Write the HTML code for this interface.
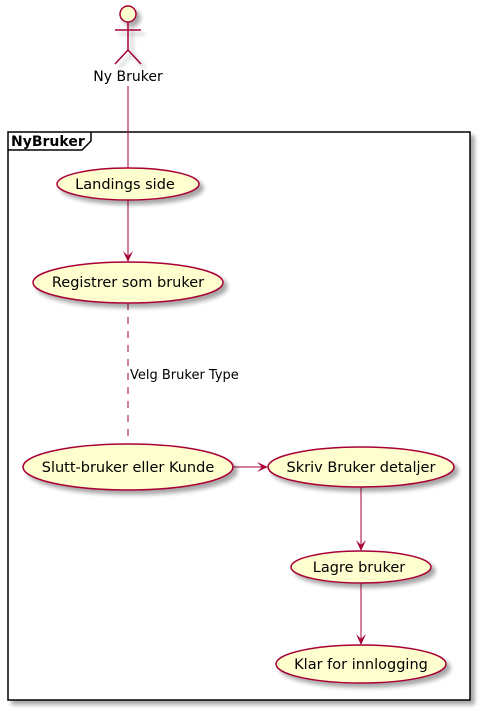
<!DOCTYPE html>
<html><head><meta charset="utf-8"><style>html,body{margin:0;padding:0;background:#fff}svg{display:block}</style></head><body>
<svg width="481" height="711" viewBox="0 0 481 711" xmlns="http://www.w3.org/2000/svg" font-family="DejaVu Sans, sans-serif">
<defs>
<filter id="sh" x="-20%" y="-20%" width="150%" height="160%"><feGaussianBlur in="SourceAlpha" stdDeviation="2"/><feOffset dx="4" dy="4"/><feComponentTransfer><feFuncA type="linear" slope="0.35"/></feComponentTransfer><feMerge><feMergeNode/><feMergeNode in="SourceGraphic"/></feMerge></filter>
</defs>
<rect x="8" y="132" width="462" height="568" fill="#fff" stroke="#000" stroke-width="1.5" filter="url(#sh)"/>
<path d="M8 150 H82 L91 141 V132" fill="none" stroke="#000" stroke-width="1.5"/>
<text x="11" y="146" font-size="14" font-weight="bold">NyBruker</text>
<g stroke="#A80036" stroke-width="1.5" fill="none" filter="url(#sh)">
<circle cx="128" cy="14" r="8" fill="#FEFECE"/>
<path d="M128 22 V50 M115 30 H141 M128 50 L115 64 M128 50 L141 64"/>
</g>
<text x="128" y="81" font-size="14" text-anchor="middle">Ny Bruker</text>
<g stroke="#A80036" stroke-width="1" fill="none">
<path d="M128 86 V168"/>
<path d="M128 200 V261"/>
<path d="M128 303 V437" stroke-dasharray="7,7"/>
<path d="M233 467 H267"/>
<path d="M361 487 V550"/>
<path d="M361 583 V644"/>
</g>
<g fill="#A80036">
<path d="M128 262 L123 251 L128 256 L133 251 Z"/>
<path d="M268 467 L257 462 L262 467 L257 472 Z"/>
<path d="M361 551 L356 540 L361 545 L366 540 Z"/>
<path d="M361 645 L356 634 L361 639 L366 634 Z"/>
</g>
<text x="130" y="379" font-size="13">Velg Bruker Type</text>
<g fill="#FEFECE" stroke="#A80036" stroke-width="1.5" filter="url(#sh)">
<ellipse cx="128" cy="184" rx="71" ry="16"/>
<ellipse cx="128" cy="282.5" rx="95" ry="20.5"/>
<ellipse cx="128" cy="467" rx="105" ry="23"/>
<ellipse cx="361" cy="467" rx="93" ry="20"/>
<ellipse cx="361" cy="567" rx="70" ry="16"/>
<ellipse cx="361" cy="664" rx="85" ry="19"/>
</g>
<g font-size="14.5" text-anchor="middle">
<text x="125" y="189">Landings side</text>
<text x="128" y="287">Registrer som bruker</text>
<text x="128" y="472">Slutt-bruker eller Kunde</text>
<text x="361" y="472">Skriv Bruker detaljer</text>
<text x="359" y="572">Lagre bruker</text>
<text x="361" y="669">Klar for innlogging</text>
</g>
</svg>
</body></html>
